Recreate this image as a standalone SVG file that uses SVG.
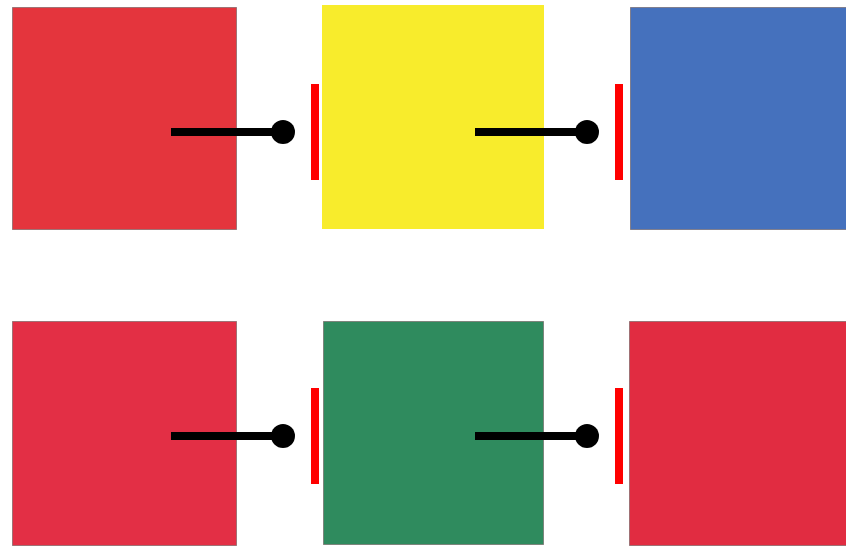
<svg xmlns="http://www.w3.org/2000/svg" width="846" height="546" viewBox="0 0 846 546">
<style>
.sq{stroke:#6a5a5a;stroke-width:1;stroke-opacity:0.6}
.bar{fill:#ff0000}
.ln{stroke:#000;stroke-width:8;fill:none}
.dot{fill:#000}
</style>
<rect width="846" height="546" fill="#ffffff"/>
<g id="node-red-top"><rect class="sq" x="12.5" y="7.5" width="224" height="222" fill="#e4353d"/></g>
<g id="node-yellow"><rect x="322" y="5" width="222" height="224" fill="#f8ec2c"/></g>
<g id="node-blue"><rect class="sq" x="630.5" y="7.5" width="216" height="222" fill="#4571bd"/></g>
<g id="node-red-bottom-left"><rect class="sq" x="12.5" y="321.5" width="224" height="224" fill="#e32f45"/></g>
<g id="node-green"><rect class="sq" x="323.5" y="321.5" width="220" height="223" fill="#2f8b5e"/></g>
<g id="node-red-bottom-right"><rect class="sq" x="629.5" y="321.5" width="217" height="224" fill="#e12c41"/></g>
<g id="connectors">
<line class="ln" x1="171" y1="132" x2="283" y2="132"/><circle class="dot" cx="283" cy="132" r="12"/><rect class="bar" x="311" y="84" width="8" height="96"/>
<line class="ln" x1="475" y1="132" x2="587" y2="132"/><circle class="dot" cx="587" cy="132" r="12"/><rect class="bar" x="615" y="84" width="8" height="96"/>
<line class="ln" x1="171" y1="436" x2="283" y2="436"/><circle class="dot" cx="283" cy="436" r="12"/><rect class="bar" x="311" y="388" width="8" height="96"/>
<line class="ln" x1="475" y1="436" x2="587" y2="436"/><circle class="dot" cx="587" cy="436" r="12"/><rect class="bar" x="615" y="388" width="8" height="96"/>
</g>
</svg>
